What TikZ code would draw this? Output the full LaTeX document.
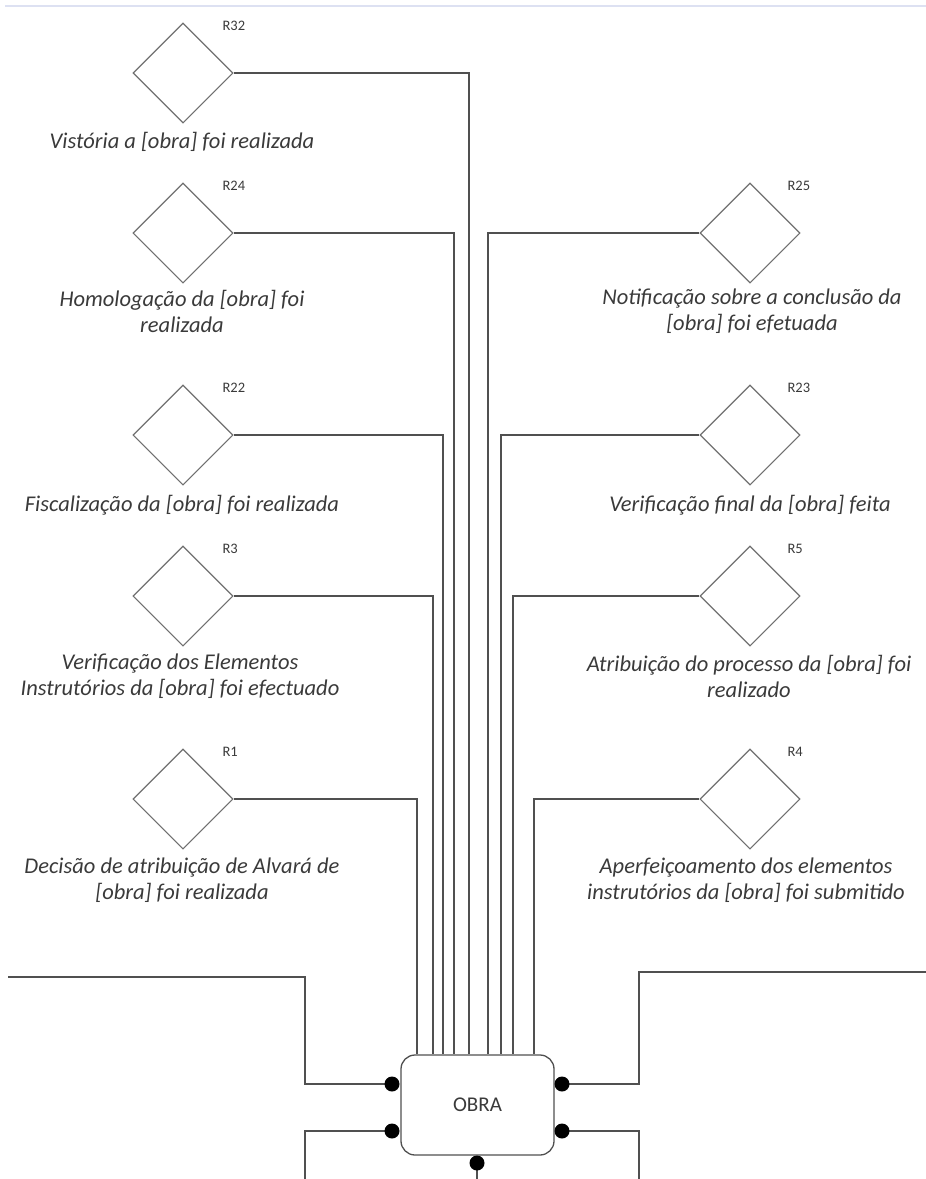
\documentclass[tikz,border=0pt]{standalone}
\usepackage{fontspec}
\setmainfont{Carlito}
\usetikzlibrary{shapes.geometric}
\definecolor{wire}{HTML}{505050}
\definecolor{edgegray}{HTML}{707070}
\definecolor{ink}{HTML}{3A3A3A}
\definecolor{rulecol}{HTML}{DDE1F2}
\begin{document}
\begin{tikzpicture}[x=1pt,y=-1pt,
  rel/.style={diamond, draw=edgegray, line width=1.1pt, minimum width=100pt,
    minimum height=100pt, inner sep=0pt, aspect=1},
  caption/.style={font=\fontsize{22.5}{26}\selectfont\itshape, text=ink, align=center},
  tag/.style={font=\fontsize{14.5}{16}\selectfont, text=ink, anchor=west},
  link/.style={draw=wire, line width=1.3pt},
  port/.style={circle, fill=black, inner sep=0pt, minimum size=15pt},
  entity/.style={draw=wire, line width=1.3pt, rounded corners=14pt,
    minimum width=153pt, minimum height=100pt,
    font=\fontsize{21}{24}\selectfont, text=ink}]

\useasboundingbox (0,0) rectangle (926,1179);
\draw[rulecol, line width=1.2pt] (5,6) -- (926,6);

% central entity
\node[entity] (obra) at (477.5,1105) {OBRA};

% relationship diamonds, left column
\node[rel] (r32) at (183,73) {};
\node[rel] (r24) at (183,233) {};
\node[rel] (r22) at (183,435) {};
\node[rel] (r3)  at (183,596) {};
\node[rel] (r1)  at (183,799) {};
% relationship diamonds, right column
\node[rel] (r25) at (750,233) {};
\node[rel] (r23) at (750,435) {};
\node[rel] (r5)  at (750,596) {};
\node[rel] (r4)  at (750,799) {};

% relationship tags
\node[tag] (t32) at (219,26) {R32};
\node[tag] (t24) at (219,186) {R24};
\node[tag] (t22) at (219,388) {R22};
\node[tag] (t3)  at (219,549) {R3};
\node[tag] (t1)  at (219,752) {R1};
\node[tag] (t25) at (784,186) {R25};
\node[tag] (t23) at (784,388) {R23};
\node[tag] (t5)  at (784,549) {R5};
\node[tag] (t4)  at (784,752) {R4};

% captions
\node[caption] (c32) at (182,142) {Vistória a [obra] foi realizada};
\node[caption] (c24) at (182,311) {Homologação da [obra] foi\\realizada};
\node[caption] (c22) at (182,505) {Fiscalização da [obra] foi realizada};
\node[caption] (c3)  at (180,676) {Verificação dos Elementos\\Instrutórios da [obra] foi efectuado};
\node[caption] (c1)  at (182,880) {Decisão de atribuição de Alvará de\\{}[obra] foi realizada};
\node[caption] (c25) at (752,311) {Notificação sobre a conclusão da\\{}[obra] foi efetuada};
\node[caption] (c23) at (750,505) {Verificação final da [obra] feita};
\node[caption] (c5)  at (749,676) {Atribuição do processo da [obra] foi\\realizado};
\node[caption] (c4)  at (746,880) {Aperfeiçoamento dos elementos\\instrutórios da [obra] foi submitido};

% connectors into the top of the entity
\draw[link] (r1.east)  -| ([xshift=-60.5pt]obra.north);
\draw[link] (r3.east)  -| ([xshift=-44.5pt]obra.north);
\draw[link] (r22.east) -| ([xshift=-34.5pt]obra.north);
\draw[link] (r24.east) -| ([xshift=-23.5pt]obra.north);
\draw[link] (r32.east) -| ([xshift=-8.5pt]obra.north);
\draw[link] (r25.west) -| ([xshift=10.5pt]obra.north);
\draw[link] (r23.west) -| ([xshift=23.5pt]obra.north);
\draw[link] (r5.west)  -| ([xshift=35.5pt]obra.north);
\draw[link] (r4.west)  -| ([xshift=56.5pt]obra.north);

% side ports
\coordinate (el1) at (8,977);
\coordinate (kl1) at (305,977);
\coordinate (el2) at (305,1179);
\coordinate (er1) at (926,972);
\coordinate (kr1) at (639,972);
\coordinate (er2) at (639,1179);
\coordinate (eb)  at (477,1179);

\draw[link] (el1) -- (kl1) |- (392,1084);
\draw[link] (el2) |- (392,1131);
\draw[link] (er1) -- (kr1) |- (562,1084);
\draw[link] (er2) |- (562,1131);
\draw[link] (eb) -- (477,1163);

\node[port] (pl1) at (392,1084) {};
\node[port] (pl2) at (392,1131) {};
\node[port] (pr1) at (562,1084) {};
\node[port] (pr2) at (562,1131) {};
\node[port] (pb)  at (477,1163) {};
\end{tikzpicture}
\end{document}
